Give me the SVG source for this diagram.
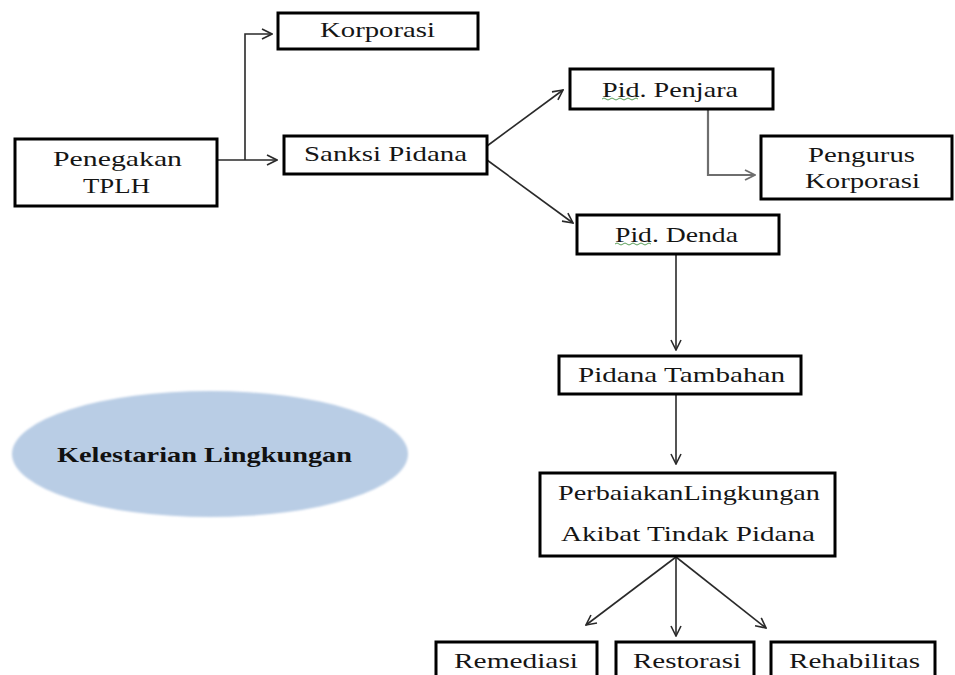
<svg xmlns="http://www.w3.org/2000/svg" width="955" height="675" viewBox="0 0 955 675">
<style>
.box{fill:#fff;stroke:#000;stroke-width:3}
.t{font-family:"Liberation Serif","Times New Roman",serif;font-size:21px;fill:#151515}
.tb{font-family:"Liberation Serif","Times New Roman",serif;font-size:21px;font-weight:bold;fill:#111}
.c{fill:none;stroke:#2a2a2a;stroke-width:1.6}
.cg{fill:none;stroke:#6e6e6e;stroke-width:2.2}
.sq{fill:none;stroke:#5aa05a;stroke-width:1}
</style>
<defs>
<marker id="ah" viewBox="0 0 12 12" refX="11" refY="6" markerWidth="12" markerHeight="12" markerUnits="userSpaceOnUse" orient="auto">
<path d="M1,1 L11,6 L1,11" fill="none" stroke="#2a2a2a" stroke-width="1.6"/>
</marker>
<marker id="ahg" viewBox="0 0 12 12" refX="11" refY="6" markerWidth="12" markerHeight="12" markerUnits="userSpaceOnUse" orient="auto">
<path d="M1,1 L11,6 L1,11" fill="none" stroke="#6e6e6e" stroke-width="1.9"/>
</marker>
<filter id="soft" x="-5%" y="-10%" width="110%" height="120%"><feGaussianBlur stdDeviation="1.2"/></filter>
</defs>

<g id="connectors">
<path class="c" d="M217,160 L277,160" marker-end="url(#ah)"/>
<path class="c" d="M245,160 L245,34 L272,34" marker-end="url(#ah)"/>
<path class="c" d="M487,146 L563,90" marker-end="url(#ah)"/>
<path class="c" d="M487,160 L573,223" marker-end="url(#ah)"/>
<path class="cg" d="M708,109 L708,175 L755,175" marker-end="url(#ahg)"/>
<path class="c" d="M676,254 L676,350" marker-end="url(#ah)"/>
<path class="c" d="M676,394 L676,464" marker-end="url(#ah)"/>
<path class="c" d="M676,557 L586,625" marker-end="url(#ah)"/>
<path class="c" d="M676,557 L676,636" marker-end="url(#ah)"/>
<path class="c" d="M676,557 L766,628" marker-end="url(#ah)"/>
</g>

<g id="korporasi">
<rect class="box" x="278" y="13" width="200" height="36"/>
<text class="t" x="320" y="37" textLength="115" lengthAdjust="spacingAndGlyphs">Korporasi</text>
</g>

<g id="penegakan">
<rect class="box" x="15" y="139" width="202" height="67"/>
<text class="t" x="53" y="166" textLength="129" lengthAdjust="spacingAndGlyphs">Penegakan</text>
<text class="t" x="83" y="193" textLength="67" lengthAdjust="spacingAndGlyphs">TPLH</text>
</g>

<g id="sanksi">
<rect class="box" x="284" y="136" width="203" height="38"/>
<text class="t" x="304" y="161" textLength="163" lengthAdjust="spacingAndGlyphs">Sanksi Pidana</text>
</g>

<g id="penjara">
<rect class="box" x="570" y="69" width="203" height="40"/>
<text class="t" x="602" y="97" textLength="136" lengthAdjust="spacingAndGlyphs">Pid. Penjara</text>
<path class="sq" d="M602,99 q2,-2 4,0 t4,0 t4,0 t4,0 t4,0 t4,0 t4,0 t4,0 t4,0"/>
</g>

<g id="pengurus">
<rect class="box" x="761" y="136" width="191" height="63"/>
<text class="t" x="808" y="162" textLength="107" lengthAdjust="spacingAndGlyphs">Pengurus</text>
<text class="t" x="805" y="188" textLength="115" lengthAdjust="spacingAndGlyphs">Korporasi</text>
</g>

<g id="denda">
<rect class="box" x="577" y="215" width="202" height="39"/>
<text class="t" x="615" y="242" textLength="123" lengthAdjust="spacingAndGlyphs">Pid. Denda</text>
<path class="sq" d="M615,244 q2,-2 4,0 t4,0 t4,0 t4,0 t4,0 t4,0 t4,0 t4,0 t4,0"/>
</g>

<g id="tambahan">
<rect class="box" x="559" y="356" width="242" height="38"/>
<text class="t" x="578" y="382" textLength="207" lengthAdjust="spacingAndGlyphs">Pidana Tambahan</text>
</g>

<g id="perbaikan">
<rect class="box" x="540" y="473" width="295" height="83"/>
<text class="t" x="558" y="500" textLength="262" lengthAdjust="spacingAndGlyphs">PerbaiakanLingkungan</text>
<text class="t" x="561" y="541" textLength="254" lengthAdjust="spacingAndGlyphs">Akibat Tindak Pidana</text>
</g>

<g id="remediasi">
<rect class="box" x="436" y="642" width="161" height="40"/>
<text class="t" x="454" y="668" textLength="124" lengthAdjust="spacingAndGlyphs">Remediasi</text>
</g>

<g id="restorasi">
<rect class="box" x="616" y="642" width="138" height="40"/>
<text class="t" x="633" y="668" textLength="108" lengthAdjust="spacingAndGlyphs">Restorasi</text>
</g>

<g id="rehabilitas">
<rect class="box" x="771" y="642" width="164" height="40"/>
<text class="t" x="789" y="668" textLength="131" lengthAdjust="spacingAndGlyphs">Rehabilitas</text>
</g>

<g id="kelestarian">
<ellipse cx="210" cy="454" rx="198" ry="63" fill="#b9cde5" filter="url(#soft)"/>
<text class="tb" x="57" y="462" textLength="295" lengthAdjust="spacingAndGlyphs">Kelestarian Lingkungan</text>
</g>
</svg>
